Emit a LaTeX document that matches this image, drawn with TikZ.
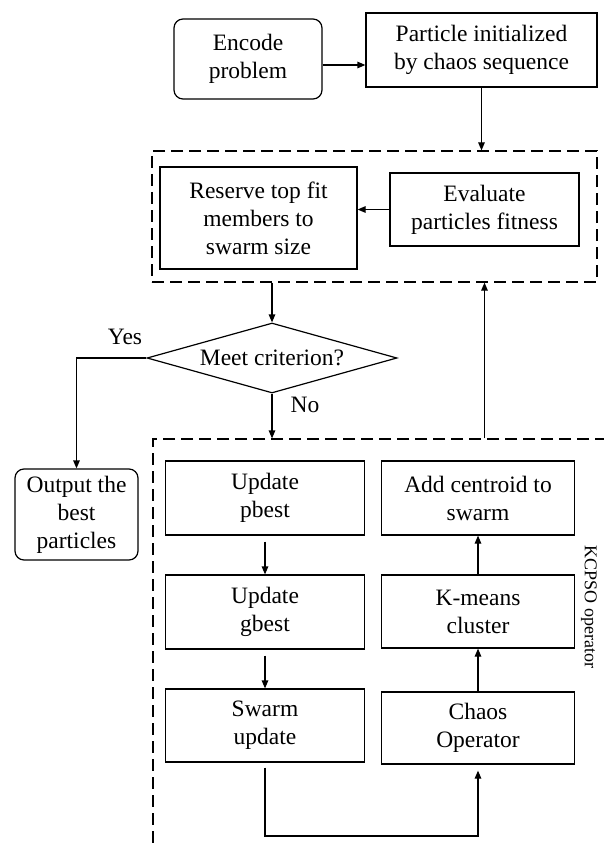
\documentclass[tikz,border=0pt]{standalone}
\usepackage{fontspec}
\setmainfont{Liberation Serif}
\usepackage{tikz}
\usetikzlibrary{arrows.meta,shapes.geometric}

\begin{document}
\begin{tikzpicture}[x=1pt, y=-1pt, line width=1.2pt,
    >={Triangle[length=8pt, width=6.5pt]},
    every node/.style={inner sep=0pt, align=center,
        font=\fontsize{23.5}{28}\selectfont},
    stepbox/.style={draw, rectangle},
    roundbox/.style={draw, rectangle, rounded corners=9pt},
    groupbox/.style={draw, rectangle, dash pattern=on 12pt off 6pt}]
    \useasboundingbox (0,0) rectangle (603,845);
    \draw[every node/.append style={stepbox}]
        (248,59) node[roundbox, minimum width=148pt, minimum height=80pt] (encode){Encode\\problem}
        (481.5,50) node[minimum width=231pt, minimum height=74pt] (particle){Particle initialized\\by chaos sequence}
        (374.5,216.5) node[groupbox, minimum width=445pt, minimum height=131pt] (loop1){}
        (258.5,218) node[minimum width=197pt, minimum height=102pt] (reserve){Reserve top fit\\members to\\swarm size}
        (484.5,209.5) node[minimum width=189pt, minimum height=73pt] (evaluate){Evaluate\\particles fitness}
        (76.5,514.5) node[roundbox, minimum width=123pt, minimum height=91pt] (output){Output the\\best\\particles}
        (390,660) node[groupbox, minimum width=474pt, minimum height=442pt] (loop2){}
        (265,498) node[minimum width=199pt, minimum height=74pt] (pbest){Update\\pbest}
        (265,612) node[minimum width=199pt, minimum height=74pt] (gbest){Update\\gbest}
        (265,725.5) node[minimum width=199pt, minimum height=73pt] (swarm){Swarm\\update}
        (478,498) node[minimum width=193pt, minimum height=74pt] (centroid){Add centroid to\\swarm}
        (478,611.5) node[minimum width=193pt, minimum height=73pt] (kmeans){K-means\\cluster}
        (478,728) node[minimum width=193pt, minimum height=72pt] (chaos){Chaos\\Operator};
    \node[draw, diamond, aspect=3.6, minimum width=250pt, minimum height=70pt] (criterion) at (272,358) {Meet criterion?};
    \node (yes) at (125,337) {Yes};
    \node (no) at (305,405) {No};
    \node[rotate=-90, font=\fontsize{18}{22}\selectfont] (kcpso) at (589,607) {KCPSO operator};
    \coordinate (bottom) at (265,836);
    \begin{scope}[->]
        \draw ([yshift=-6pt]encode.east) to ([yshift=-6pt]encode.east -| particle.west);
        \draw (particle.south) to (particle.south |- loop1.north);
        \draw (evaluate.west) to (evaluate.west -| reserve.east);
        \draw (loop1.south -| criterion.north) to (criterion.north);
        \draw (criterion.west) -- (criterion.west -| output.north) to (output.north);
        \draw (criterion.south) to (criterion.south |- loop2.north);
        \draw (loop2.north -| evaluate.south) to (loop1.south -| evaluate.south);
        \draw[shorten <=6pt] (pbest.south) to (gbest.north);
        \draw[shorten <=6pt] (gbest.south) to (swarm.north);
        \draw (chaos.north) to (kmeans.south);
        \draw (kmeans.north) to (centroid.south);
        \draw[shorten <=5pt, shorten >=6pt] (swarm.south) -- (bottom) -| (chaos.south);
    \end{scope}
\end{tikzpicture}
\end{document}
